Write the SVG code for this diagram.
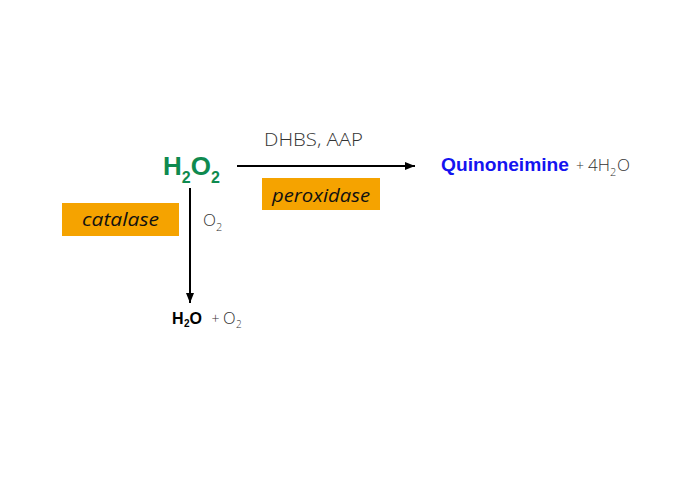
<svg xmlns="http://www.w3.org/2000/svg" width="690" height="480" viewBox="0 0 690 480">
<style>
.box{fill:#f5a300;}
.enz{font-family:"Open Sans","Liberation Sans",sans-serif;font-style:italic;font-size:19px;fill:#111;}
.lt{font-family:"Open Sans","Liberation Sans",sans-serif;font-weight:300;fill:#333;}
.bd{font-family:"Liberation Sans",Arial,sans-serif;font-weight:bold;}
.ln{stroke:#000;stroke-width:2;fill:none;}
</style>
<defs>
<marker id="ah" viewBox="0 0 10 8" refX="10" refY="4" markerWidth="10" markerHeight="8" markerUnits="userSpaceOnUse" orient="auto">
<path d="M0,0 L10,4 L0,8 z" fill="#000"/>
</marker>
</defs>
<rect width="690" height="480" fill="#fff"/>
<g id="connectors">
<line class="ln" x1="237" y1="166" x2="415" y2="166" marker-end="url(#ah)"/>
<line class="ln" x1="190" y1="188" x2="190" y2="303" marker-end="url(#ah)"/>
</g>
<g id="h2o2">
<text class="bd" x="163" y="175" font-size="26" fill="#0f8a4f">H<tspan font-size="16" dy="8">2</tspan><tspan dy="-8">O</tspan><tspan font-size="16" dy="8">2</tspan></text>
</g>
<g id="reagents">
<text class="lt" x="264" y="146" font-size="18" textLength="99" lengthAdjust="spacingAndGlyphs">DHBS, AAP</text>
</g>
<g id="peroxidase">
<rect class="box" x="262" y="178" width="118" height="32"/>
<text class="enz" x="272" y="202" textLength="98" lengthAdjust="spacingAndGlyphs">peroxidase</text>
</g>
<g id="catalase">
<rect class="box" x="62" y="203" width="117" height="33"/>
<text class="enz" x="82" y="226" textLength="77" lengthAdjust="spacingAndGlyphs">catalase</text>
</g>
<g id="o2-side">
<text class="lt" x="203" y="226" font-size="17">O<tspan font-size="11" dy="5">2</tspan></text>
</g>
<g id="product">
<text class="bd" x="441" y="171" font-size="19" fill="#1414f0" textLength="128" lengthAdjust="spacingAndGlyphs">Quinoneimine</text>
<text class="lt" y="171" font-size="17"><tspan x="576" font-size="14">+</tspan><tspan x="588">4H</tspan><tspan font-size="11" x="610" dy="5">2</tspan><tspan x="617" dy="-5">O</tspan></text>
</g>
<g id="water">
<text class="bd" y="324" font-size="16" fill="#000"><tspan x="172">H</tspan><tspan font-size="10" x="184" dy="3">2</tspan><tspan x="189.5" dy="-3">O</tspan></text>
<text class="lt" y="324" font-size="16.5"><tspan x="211.5" font-size="14">+</tspan><tspan x="223">O</tspan><tspan font-size="10" x="236" dy="4">2</tspan></text>
</g>
</svg>
